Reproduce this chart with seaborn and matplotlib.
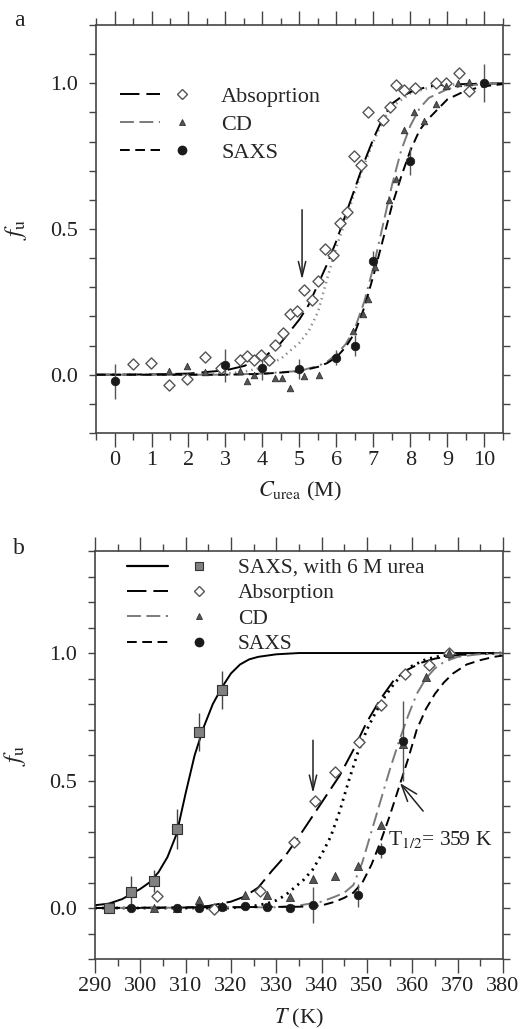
import matplotlib
matplotlib.use('Agg')
import matplotlib.pyplot as plt
from matplotlib.lines import Line2D
from matplotlib.legend_handler import HandlerTuple
from matplotlib.ticker import MultipleLocator, FormatStrFormatter
import seaborn as sns

# ---------------- panel a : urea titration ----------------
abs_a_x = [0.49, 0.99, 1.47, 1.96, 2.44, 2.87, 3.39, 3.59, 3.78, 3.97, 4.17, 4.35, 4.56, 4.74, 4.93, 5.11, 5.34,
           5.49, 5.70, 5.90, 6.10, 6.28, 6.48, 6.66, 6.86, 7.25, 7.44, 7.62, 7.83, 8.12, 8.70, 8.97, 9.31, 9.58]
abs_a_y = [0.038, 0.04, -0.035, -0.016, 0.06, 0.024, 0.049, 0.064, 0.049, 0.069, 0.049, 0.102, 0.144, 0.21, 0.22,
           0.29, 0.256, 0.32, 0.43, 0.41, 0.52, 0.56, 0.75, 0.72, 0.90, 0.874, 0.92, 0.994, 0.977, 0.985, 1.0, 1.0,
           1.034, 0.975]
cd_a_x = [1.47, 1.96, 2.44, 3.39, 3.59, 3.77, 4.35, 4.53, 4.75, 5.11, 5.52, 6.46, 6.73, 6.86, 7.04, 7.42, 7.62,
          7.82, 8.10, 8.37, 8.70, 8.97, 9.28, 9.58]
cd_a_y = [0.013, 0.03, 0.01, 0.013, -0.022, 0.0, -0.01, -0.01, -0.045, -0.005, 0.0, 0.15, 0.21, 0.26, 0.37, 0.60,
          0.67, 0.84, 0.90, 0.87, 0.93, 0.99, 1.0, 1.005]
saxs_a_x = [0, 3, 4, 5, 6, 6.5, 7, 8, 10]
saxs_a_y = [-0.023, 0.032, 0.024, 0.02, 0.058, 0.10, 0.39, 0.735, 1.0]
saxs_a_err = [0.06, 0.057, 0.043, 0.034, 0.026, 0.037, 0.033, 0.048, 0.065]

# fitted curves
fit_abs_a_x = [-0.5, 1, 2, 3, 3.5, 4, 4.5, 5, 5.25, 5.5, 5.75, 6, 6.25, 6.5, 6.75, 7, 7.25, 7.5, 7.75, 8, 8.25,
               8.5, 9, 10.5]
fit_abs_a_y = [0, 0.001, 0.004, 0.015, 0.03, 0.055, 0.11, 0.19, 0.24, 0.31, 0.38, 0.46, 0.55, 0.64, 0.73, 0.81,
               0.88, 0.93, 0.953, 0.97, 0.98, 0.99, 0.996, 1.0]
fit_dot_a_x = [-0.5, 2, 3, 3.5, 4, 4.5, 5, 5.25, 5.5, 5.75, 6, 6.25, 6.5, 6.75, 7, 7.25, 7.5, 8, 8.5, 9, 10.5]
fit_dot_a_y = [0, 0, 0.004, 0.01, 0.025, 0.055, 0.11, 0.15, 0.215, 0.33, 0.44, 0.53, 0.63, 0.72, 0.80, 0.87, 0.92,
               0.965, 0.985, 0.995, 1.0]
fit_cd_a_x = [-0.5, 3, 4, 5, 5.5, 5.75, 6, 6.25, 6.5, 6.75, 7, 7.25, 7.5, 7.75, 8, 8.25, 8.5, 9, 9.5, 10.5]
fit_cd_a_y = [0, 0, 0.004, 0.013, 0.03, 0.045, 0.07, 0.105, 0.16, 0.25, 0.37, 0.51, 0.65, 0.77, 0.855, 0.915, 0.95,
              0.98, 0.993, 1.0]
fit_saxs_a_x = [-0.5, 3, 4, 5, 5.5, 5.75, 6, 6.25, 6.5, 6.75, 7, 7.25, 7.5, 7.75, 8, 8.25, 8.5, 9, 9.5, 10, 10.5]
fit_saxs_a_y = [0, 0, 0.003, 0.012, 0.027, 0.04, 0.06, 0.095, 0.145, 0.23, 0.34, 0.46, 0.58, 0.68, 0.77, 0.84,
                0.88, 0.945, 0.975, 0.99, 0.997]

# ---------------- panel b : thermal melting ----------------
sq_b_x = [293, 298, 303, 308, 313, 318]
sq_b_y = [0.0, 0.063, 0.106, 0.31, 0.69, 0.855]
sq_b_err = [0.02, 0.062, 0.045, 0.08, 0.073, 0.075]
abs_b_x = [303.7, 316.3, 326.3, 334.0, 338.5, 343.0, 348.3, 353.2, 358.4, 363.8, 368.2]
abs_b_y = [0.046, -0.003, 0.067, 0.26, 0.42, 0.534, 0.65, 0.796, 0.916, 0.953, 1.0]
cd_b_x = [303, 308, 313, 318, 323, 328, 333, 338, 343, 348, 353, 358, 363, 368]
cd_b_y = [0.0, 0.0, 0.03, 0.008, 0.05, 0.05, 0.045, 0.115, 0.125, 0.163, 0.325, 0.645, 0.907, 1.0]
saxs_b_x = [298, 308, 313, 318, 323, 328, 333, 338, 348, 353, 358]
saxs_b_y = [0.0, 0.0, 0.0, 0.003, 0.008, 0.003, 0.0, 0.013, 0.05, 0.226, 0.654]
saxs_b_err = [0.01, 0.01, 0.01, 0.01, 0.01, 0.01, 0.01, 0.07, 0.045, 0.03, 0.157]

fit_sq_b_x = [290, 293, 296, 298, 300, 302, 304, 306, 308, 310, 312, 314, 316, 318, 320, 322, 324, 326, 330, 335,
              380]
fit_sq_b_y = [0.011, 0.017, 0.035, 0.055, 0.075, 0.10, 0.14, 0.20, 0.29, 0.45, 0.60, 0.71, 0.80, 0.865, 0.92, 0.955,
              0.975, 0.985, 0.995, 1.0, 1.0]
fit_abs_b_x = [290, 300, 310, 315, 320, 323, 326, 329, 332, 335, 338, 341, 344, 347, 350, 353, 356, 359, 362, 365,
               370, 375, 380]
fit_abs_b_y = [0, 0, 0.002, 0.008, 0.025, 0.045, 0.08, 0.145, 0.205, 0.28, 0.36, 0.44, 0.52, 0.62, 0.73, 0.82,
               0.895, 0.935, 0.962, 0.978, 0.992, 0.998, 1.0]
fit_dot_b_x = [290, 320, 325, 328, 330, 332, 334, 336, 338, 340, 342, 344, 346, 348, 350, 352, 354, 356, 358, 360,
               363, 366, 370, 380]
fit_dot_b_y = [0, 0, 0.008, 0.018, 0.03, 0.05, 0.08, 0.11, 0.15, 0.21, 0.28, 0.38, 0.50, 0.61, 0.70, 0.77, 0.83,
               0.88, 0.92, 0.95, 0.975, 0.988, 0.995, 1.0]
fit_cd_b_x = [290, 330, 335, 340, 343, 345, 347, 349, 351, 353, 355, 357, 359, 361, 363, 365, 367, 370, 375, 380]
fit_cd_b_y = [0, 0.003, 0.01, 0.025, 0.045, 0.06, 0.09, 0.18, 0.30, 0.42, 0.54, 0.65, 0.75, 0.84, 0.90, 0.94, 0.965,
              0.985, 0.996, 1.0]
fit_saxs_b_x = [290, 335, 340, 343, 345, 347, 349, 351, 353, 355, 357, 359, 361, 363, 365, 367, 369, 372, 375, 378,
                380]
fit_saxs_b_y = [0, 0.005, 0.01, 0.025, 0.04, 0.06, 0.10, 0.17, 0.26, 0.36, 0.47, 0.58, 0.70, 0.78, 0.84, 0.885,
                0.92, 0.955, 0.972, 0.985, 0.99]

# annotation positions (data coords)
arrow_a = ((5.07, 0.566), (5.07, 0.326))
arrow_b = ((338.1, 0.658), (338.1, 0.45))
arrow_half = ((362.4, 0.38), (357.3, 0.49))
half_label = (354.6, 0.27)

# ---------------- style ----------------
sns.set_theme(style='ticks')
plt.rcParams['font.family'] = ['Liberation Serif', 'DejaVu Serif']
plt.rcParams['mathtext.fontset'] = 'stix'
plt.rcParams['lines.scale_dashes'] = False

LS_ABS = (0, (14, 5))
LS_CD = (0, (10, 4, 10, 4, 1.5, 4))
LS_SAXS = (0, (7, 4))
LS_DOT = (0, (1, 3))
GREY = '#7a7a7a'
DARK = '#444444'

fig = plt.figure(figsize=(5.23, 10.29), dpi=100)
ax_a = fig.add_axes([0.1836, 0.5792, 0.778, 0.3965])
ax_b = fig.add_axes([0.1816, 0.068, 0.780, 0.3965])


def curve(ax, x, y, color, ls, lw=1.4):
    sns.lineplot(x=x, y=y, ax=ax, color=color, linestyle=ls, lw=lw, sort=False, estimator=None, zorder=2)


def diamonds(ax, x, y):
    sns.scatterplot(x=x, y=y, ax=ax, marker='D', s=32, color='white', edgecolor='#555555', linewidth=1, zorder=4)


def triangles(ax, x, y, s=22):
    sns.scatterplot(x=x, y=y, ax=ax, marker='^', s=s, color='#555555', edgecolor='#333333', linewidth=0.6, zorder=4)


def circles(ax, x, y, err):
    ax.errorbar(x, y, yerr=err, fmt='none', ecolor='#555555', elinewidth=1, capsize=0, zorder=3)
    sns.scatterplot(x=x, y=y, ax=ax, marker='o', s=38, color='#1a1a1a', edgecolor='#1a1a1a', linewidth=0.5, zorder=5)


# ---- panel a ----
curve(ax_a, fit_dot_a_x, fit_dot_a_y, '#8a8a8a', LS_DOT, lw=1.8)
curve(ax_a, fit_abs_a_x, fit_abs_a_y, 'black', LS_ABS)
curve(ax_a, fit_cd_a_x, fit_cd_a_y, GREY, LS_CD)
curve(ax_a, fit_saxs_a_x, fit_saxs_a_y, 'black', LS_SAXS)
diamonds(ax_a, abs_a_x, abs_a_y)
triangles(ax_a, cd_a_x, cd_a_y)
circles(ax_a, saxs_a_x, saxs_a_y, saxs_a_err)

# ---- panel b ----
curve(ax_b, fit_sq_b_x, fit_sq_b_y, 'black', '-')
curve(ax_b, fit_dot_b_x, fit_dot_b_y, 'black', (0, (1.5, 3.5)), lw=2)
curve(ax_b, fit_abs_b_x, fit_abs_b_y, 'black', LS_ABS)
curve(ax_b, fit_cd_b_x, fit_cd_b_y, GREY, LS_CD)
curve(ax_b, fit_saxs_b_x, fit_saxs_b_y, 'black', LS_SAXS)
ax_b.errorbar(sq_b_x, sq_b_y, yerr=sq_b_err, fmt='none', ecolor='#444444', elinewidth=1, capsize=0, zorder=3)
sns.scatterplot(x=sq_b_x, y=sq_b_y, ax=ax_b, marker='s', s=42, color='#808080', edgecolor='#333333',
                linewidth=0.8, zorder=5)
diamonds(ax_b, abs_b_x, abs_b_y)
triangles(ax_b, cd_b_x, cd_b_y, s=34)
circles(ax_b, saxs_b_x, saxs_b_y, saxs_b_err)

# arrows + label
arrow_kw = dict(arrowstyle='->,head_length=0.9,head_width=0.22', color='#222222', lw=1.1, shrinkA=0, shrinkB=0)
ax_a.annotate('', xy=arrow_a[1], xytext=arrow_a[0], arrowprops=arrow_kw)
ax_b.annotate('', xy=arrow_b[1], xytext=arrow_b[0], arrowprops=arrow_kw)
ax_b.annotate('', xy=arrow_half[1], xytext=arrow_half[0],
              arrowprops=dict(arrowstyle='->,head_length=1.0,head_width=0.35', color='#222222', lw=1.1,
                              shrinkA=0, shrinkB=0))
ax_b.text(half_label[0], half_label[1], r'T$_{\mathrm{1/2}}$= 359 K', fontsize=15.5, va='center', ha='left',
          color='#222222', zorder=6)

# legends
legend_kw = dict(frameon=False, borderpad=0, borderaxespad=0, loc='upper left', numpoints=1,
                 handler_map={tuple: HandlerTuple(ndivide=2, pad=0.1)})
h_abs = (Line2D([], [], color='black', ls=LS_ABS, lw=1.4),
         Line2D([], [], marker='D', ls='none', ms=5.5, mfc='white', mec='#555555', mew=1))
h_cd = (Line2D([], [], color=GREY, ls=LS_CD, lw=1.4),
        Line2D([], [], marker='^', ls='none', ms=5, mfc='#555555', mec='#333333', mew=0.6))
h_saxs = (Line2D([], [], color='black', ls=LS_SAXS, lw=1.4),
          Line2D([], [], marker='o', ls='none', ms=6, mfc='#1a1a1a', mec='#1a1a1a'))
h_sq = (Line2D([], [], color='black', ls='-', lw=1.6),
        Line2D([], [], marker='s', ls='none', ms=6, mfc='#808080', mec='#333333', mew=0.8))

ax_a.legend([h_abs, h_cd, h_saxs], ['Absoprtion', 'CD', 'SAXS'], bbox_to_anchor=(0.059, 0.849),
            fontsize=16, handlelength=3.7, handletextpad=0.85, labelspacing=0.32, **legend_kw)
leg_b_kw = dict(legend_kw)
leg_b_kw['handler_map'] = {tuple: HandlerTuple(ndivide=2, pad=0.5)}
ax_b.legend([h_sq, h_abs, h_cd, h_saxs], ['SAXS, with 6 M urea', 'Absorption', 'CD', 'SAXS'],
            bbox_to_anchor=(0.078, 0.983), fontsize=15.5, handlelength=4.3, handletextpad=0.85,
            labelspacing=0.25, **leg_b_kw)

# axes cosmetics
for ax, (x0, x1), (y0, y1), xmaj, xmin in [(ax_a, (-0.5, 10.5), (-0.2, 1.2), 1, 0.5),
                                            (ax_b, (290, 380), (-0.2, 1.4), 10, 5)]:
    ax.set_xlim(x0, x1)
    ax.set_ylim(y0, y1)
    ax.xaxis.set_major_locator(MultipleLocator(xmaj))
    ax.xaxis.set_minor_locator(MultipleLocator(xmin))
    ax.yaxis.set_major_locator(MultipleLocator(0.5))
    ax.yaxis.set_minor_locator(MultipleLocator(0.1))
    ax.yaxis.set_major_formatter(FormatStrFormatter('%.1f'))
    for sp in ax.spines.values():
        sp.set_visible(True)
        sp.set_color(DARK)
        sp.set_linewidth(1.2)
    ax.tick_params(which='both', direction='out', top=True, right=True, color=DARK, width=1,
                   labelsize=16, labelcolor='#222222')
    ax.tick_params(axis='x', which='major', length=10, pad=3)
    ax.tick_params(axis='x', which='minor', length=5)
    ax.tick_params(axis='y', which='both', length=5, pad=8)
    ax.set_ylabel(r'$f_\mathrm{u}$', fontsize=18, color='#222222')
    ax.yaxis.set_label_coords(-0.165, 0.5)
    ax.set_facecolor('white')

ax_a.set_xlabel(r'$C_\mathrm{urea}$ (M)', fontsize=16, color='#222222', labelpad=7)
ax_b.set_xlabel(r'$T$ (K)', fontsize=16, color='#222222', labelpad=8)

fig.text(19 / 523, 1 - 20 / 1029, 'a', fontsize=17, ha='center', va='center', color='#222222')
fig.text(19 / 523, 1 - 548 / 1029, 'b', fontsize=17, ha='center', va='center', color='#222222')

fig.savefig('out.png', dpi=100, facecolor='white')
